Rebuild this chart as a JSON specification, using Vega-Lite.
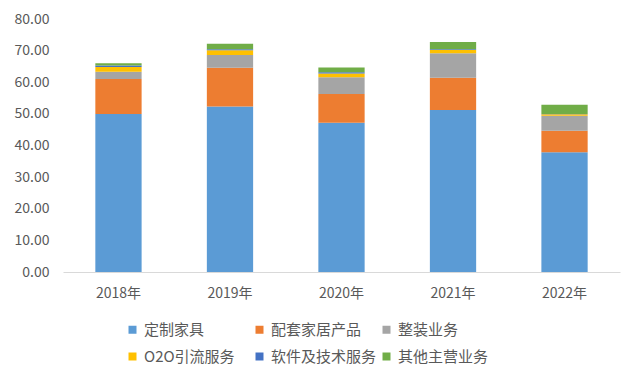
{
  "$schema": "https://vega.github.io/schema/vega-lite/v6.json",
  "autosize": "none",
  "width": 557,
  "height": 253,
  "padding": {"left": 63, "top": 19, "right": 22, "bottom": 114},
  "background": "white",
  "config": {
    "view": {"stroke": null},
    "font": "Noto Sans CJK SC",
    "axis": {"labelColor": "#595959", "labelFontSize": 14, "ticks": false, "grid": false, "title": null},
    "legend": {"labelColor": "#595959", "labelFontSize": 15}
  },
  "data": {
    "values": [
      {"year": "2018年", "type": "定制家具", "value": 50.0},
      {"year": "2018年", "type": "配套家居产品", "value": 11.0},
      {"year": "2018年", "type": "整装业务", "value": 2.3},
      {"year": "2018年", "type": "O2O引流服务", "value": 1.5},
      {"year": "2018年", "type": "软件及技术服务", "value": 0.5},
      {"year": "2018年", "type": "其他主营业务", "value": 0.7},
      {"year": "2019年", "type": "定制家具", "value": 52.3},
      {"year": "2019年", "type": "配套家居产品", "value": 12.3},
      {"year": "2019年", "type": "整装业务", "value": 4.0},
      {"year": "2019年", "type": "O2O引流服务", "value": 1.5},
      {"year": "2019年", "type": "软件及技术服务", "value": 0.3},
      {"year": "2019年", "type": "其他主营业务", "value": 1.8},
      {"year": "2020年", "type": "定制家具", "value": 47.2},
      {"year": "2020年", "type": "配套家居产品", "value": 9.1},
      {"year": "2020年", "type": "整装业务", "value": 5.3},
      {"year": "2020年", "type": "O2O引流服务", "value": 1.2},
      {"year": "2020年", "type": "软件及技术服务", "value": 0.4},
      {"year": "2020年", "type": "其他主营业务", "value": 1.5},
      {"year": "2021年", "type": "定制家具", "value": 51.2},
      {"year": "2021年", "type": "配套家居产品", "value": 10.2},
      {"year": "2021年", "type": "整装业务", "value": 7.8},
      {"year": "2021年", "type": "O2O引流服务", "value": 1.0},
      {"year": "2021年", "type": "软件及技术服务", "value": 0.2},
      {"year": "2021年", "type": "其他主营业务", "value": 2.3},
      {"year": "2022年", "type": "定制家具", "value": 37.9},
      {"year": "2022年", "type": "配套家居产品", "value": 6.8},
      {"year": "2022年", "type": "整装业务", "value": 4.7},
      {"year": "2022年", "type": "O2O引流服务", "value": 0.5},
      {"year": "2022年", "type": "软件及技术服务", "value": 0.1},
      {"year": "2022年", "type": "其他主营业务", "value": 2.9}
    ]
  },
  "transform": [
    {"calculate": "indexof(['定制家具', '配套家居产品', '整装业务', 'O2O引流服务', '软件及技术服务', '其他主营业务'], datum.type)", "as": "stackOrder"}
  ],
  "mark": {"type": "bar"},
  "encoding": {
    "x": {
      "field": "year", "type": "nominal",
      "scale": {"paddingInner": 0.585, "paddingOuter": 0.29},
      "axis": {"labelAngle": 0, "domainColor": "#D9D9D9", "labelPadding": 14}
    },
    "y": {
      "field": "value", "type": "quantitative", "stack": "zero",
      "scale": {"domain": [0, 80]},
      "axis": {"values": [0, 10, 20, 30, 40, 50, 60, 70, 80], "format": ".2f", "domain": false, "labelPadding": 14}
    },
    "order": {"field": "stackOrder", "type": "quantitative", "sort": "ascending"},
    "color": {
      "field": "type", "type": "nominal",
      "sort": ["定制家具", "配套家居产品", "整装业务", "O2O引流服务", "软件及技术服务", "其他主营业务"],
      "scale": {
        "domain": ["定制家具", "配套家居产品", "整装业务", "O2O引流服务", "软件及技术服务", "其他主营业务"],
        "range": ["#5B9BD5", "#ED7D31", "#A5A5A5", "#FFC000", "#4472C4", "#70AD47"]
      },
      "legend": {
        "title": null, "orient": "none", "legendX": 62, "legendY": 303,
        "direction": "horizontal", "columns": 3, "gridAlign": "all",
        "symbolType": "square", "symbolSize": 64, "symbolStrokeWidth": 0,
        "columnPadding": 2, "rowPadding": 11, "labelOffset": 4
      }
    }
  }
}
